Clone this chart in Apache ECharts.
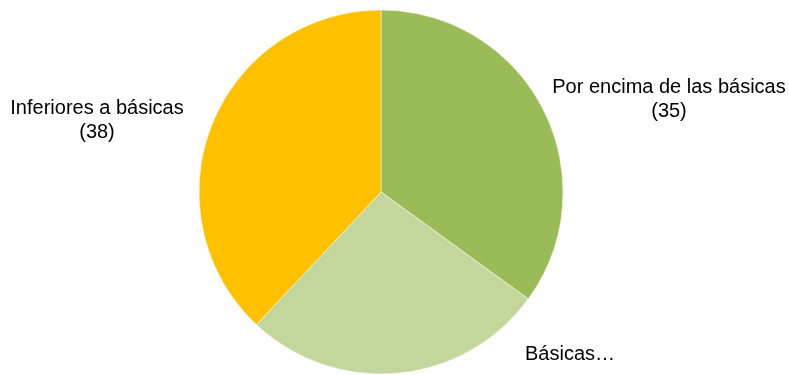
<!DOCTYPE html>
<html>
<head>
<meta charset="utf-8">
<script src="https://cdn.jsdelivr.net/npm/echarts@6/dist/echarts.min.js"></script>
<style>
  html, body { margin: 0; padding: 0; background: #fff; }
  #chart { width: 789px; height: 375px; }
</style>
</head>
<body>
<div id="chart"></div>
<script>
// Slices, clockwise from 12 o'clock
const categories = ['Por encima de las básicas', 'Básicas', 'Inferiores a básicas'];
const values = [35, 27, 38];
const labelTexts = ['Por encima de las básicas\n(35)', 'Básicas…', 'Inferiores a básicas\n(38)'];
const colors = ['#9BBB59', '#C3D69B', '#FFC000'];

// Where each label's centre sits
const labelSpots = [
  { x: 669, y: 99 },
  { x: 570, y: 354 },
  { x: 97, y: 120 }
];

const chart = echarts.init(document.getElementById('chart'), null, { renderer: 'canvas' });

chart.setOption({
  animation: false,
  backgroundColor: '#ffffff',
  series: [{
    type: 'pie',
    center: [381, 192],
    radius: [0, 182],
    startAngle: 90,
    clockwise: true,
    avoidLabelOverlap: false,
    itemStyle: { borderColor: '#ffffff', borderWidth: 0.5 },
    label: {
      show: true,
      position: 'outside',
      color: '#000000',
      fontFamily: 'Liberation Sans, Arial, sans-serif',
      fontSize: 20,
      lineHeight: 24,
      align: 'center',
      formatter: p => labelTexts[p.dataIndex]
    },
    labelLine: { show: false },
    labelLayout: p => ({
      x: labelSpots[p.dataIndex].x,
      y: labelSpots[p.dataIndex].y,
      align: 'center',
      verticalAlign: 'middle'
    }),
    data: categories.map((name, i) => ({
      name: name,
      value: values[i],
      itemStyle: { color: colors[i] }
    }))
  }]
});
</script>
</body>
</html>
